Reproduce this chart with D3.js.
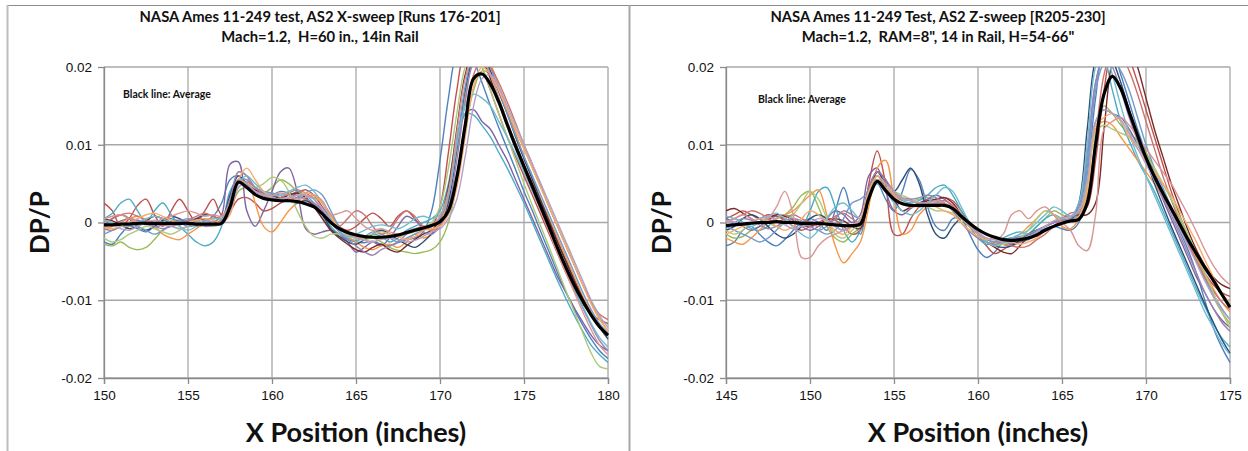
<!DOCTYPE html>
<html><head><meta charset="utf-8">
<script src="https://cdn.jsdelivr.net/npm/d3@7"></script>
<style>body{margin:0;background:#fff}svg{display:block}text{white-space:pre}</style>
</head><body>
<svg id="c" width="1248" height="451"></svg>
<script>
// ---------- DATA (DP/P values stored ×1000) ----------
const titleLeft = ["NASA Ames 11-249 test, AS2 X-sweep [Runs 176-201]", "Mach=1.2,  H=60 in., 14in Rail"];
const titleRight = ["NASA Ames 11-249 Test, AS2 Z-sweep [R205-230]", "Mach=1.2,  RAM=8\", 14 in Rail, H=54-66\""];
const xTicksLeft = [150,155,160,165,170,175,180];
const xTicksRight = [145,150,155,160,165,170,175];
const yTicks = [-0.02,-0.01,0,0.01,0.02];
const yTickLabels = ["-0.02","-0.01","0","0.01","0.02"];
const xLabel = "X Position (inches)";
const yLabel = "DP/P";
const noteText = "Black line: Average";
const runColors = ["#4F81BD","#C0504D","#9BBB59","#8064A2","#4BACC6","#F79646","#2C4D75","#772C2A",
                   "#729ACA","#CD7371","#AFC97A","#9983B5","#6FBDD1","#F9AB6B","#D99694","#B3A2C7"];

// sample positions (inches), every 0.5 in
const xsLeft = d3.range(150, 180.25, 0.5);
const xsRight = d3.range(145, 175.25, 0.5);

const avgLeft = [-0.3,-0.3,-0.2,-0.2,-0.1,-0.1,-0.1,-0.1,-0.1,-0.1,
 -0.1,-0.2,-0.2,-0.2,-0.1,2.0,5.2,4.5,3.6,3.1,
 2.9,2.8,2.8,2.7,2.4,2.0,1.1,0.0,-0.8,-1.3,
 -1.6,-1.8,-1.9,-1.9,-1.8,-1.6,-1.3,-1.0,-0.7,-0.4,
 0.1,1.5,5.8,12.5,18.5,19.1,17.8,15.5,12.6,9.8,
 7.2,4.6,2.0,-0.6,-3.3,-5.8,-8.1,-10.1,-11.9,-13.4,
 -14.5];
const runL01 = [-2.5,-2.8,-1.5,-0.5,-0.8,-1.2,-0.5,0.2,0.5,0.0,
 -0.5,-0.3,0.2,0.8,2.5,5.5,6.0,4.5,3.5,3.2,
 3.5,4.0,3.8,3.5,3.0,2.0,0.5,-1.0,-1.8,-2.2,
 -2.5,-2.6,-2.4,-2.8,-3.0,-2.6,-2.2,-2.0,-1.2,1.5,
 8.0,16.0,22.0,23.5,21.0,18.0,15.0,12.2,9.5,6.8,
 4.0,1.5,-1.2,-3.8,-6.5,-9.0,-11.2,-13.2,-15.0,-16.5,
 -17.5];
const runL02 = [2.5,1.5,-0.5,0.5,2.2,3.0,1.0,-0.5,1.5,3.0,
 1.5,0.0,1.5,3.0,1.0,1.5,3.0,3.2,2.5,1.5,
 1.8,2.5,3.0,3.8,4.2,3.5,2.0,0.5,-0.5,-1.0,
 -0.5,0.5,1.2,0.5,-0.5,0.8,1.5,0.5,-0.8,-0.5,
 2.0,9.0,17.0,22.0,22.5,20.0,17.0,14.0,11.0,8.5,
 6.0,3.5,1.0,-1.5,-4.0,-6.5,-8.8,-10.5,-11.8,-12.5,
 -13.0];
const runL03 = [-2.8,-3.0,-2.5,-3.2,-3.5,-3.2,-2.2,-1.0,-0.5,-0.8,
 -0.5,0.2,0.5,0.3,0.2,1.5,4.0,4.5,4.0,3.8,
 4.5,5.5,5.0,4.0,3.5,3.2,2.5,1.0,-0.5,-1.5,
 -2.0,-2.2,-2.0,-2.5,-3.2,-3.6,-3.8,-4.0,-3.8,-3.5,
 -2.5,0.0,5.0,12.0,17.0,19.5,19.0,17.0,14.5,12.0,
 9.5,7.0,4.5,2.0,-0.5,-3.0,-5.5,-8.0,-10.2,-12.3,
 -14.0];
const runL04 = [-0.5,-0.3,0.2,0.5,0.3,-0.2,-0.5,-0.3,0.2,0.3,
 0.0,-0.5,-0.3,0.0,1.0,7.5,7.8,1.5,-0.5,1.5,
 4.0,6.5,7.0,4.0,-0.8,-1.5,-1.2,-1.0,-1.5,-2.5,
 -3.8,-3.2,-2.5,-3.0,-2.0,-0.5,0.8,0.3,-0.5,-0.3,
 0.5,4.0,10.0,14.0,14.5,13.0,12.0,10.0,8.0,5.5,
 3.0,0.5,-2.0,-4.5,-7.0,-9.0,-11.0,-12.8,-14.5,-15.8,
 -16.5];
const runL05 = [0.5,1.2,2.5,3.0,1.5,0.0,1.5,2.5,1.0,-0.5,
 -1.5,-2.5,-3.0,-2.5,-0.5,4.0,5.5,4.8,4.0,3.5,
 3.0,2.8,3.2,4.0,3.5,2.5,1.0,-0.5,-1.5,-2.0,
 -2.3,-2.0,-1.5,-1.8,-2.5,-2.0,-1.0,-0.5,0.0,0.5,
 1.5,5.0,11.0,14.0,13.8,12.5,11.0,9.0,7.0,4.8,
 2.5,0.0,-2.5,-5.0,-7.5,-9.8,-12.0,-14.0,-15.8,-17.0,
 -18.0];
const runL06 = [-1.0,-0.5,0.0,0.5,0.8,0.3,-0.5,-1.5,-2.0,-2.2,
 -1.5,-0.8,0.0,0.5,0.8,2.5,6.5,6.0,2.5,-0.5,
 -1.2,0.0,1.5,2.5,3.0,3.5,2.5,1.0,-0.5,-1.8,
 -2.5,-3.2,-3.5,-3.0,-2.8,-3.2,-2.5,-1.5,-2.0,-1.5,
 0.0,3.0,9.0,16.0,21.5,22.5,20.5,17.5,14.5,11.5,
 8.5,5.8,3.0,0.5,-2.0,-4.5,-7.0,-9.5,-11.5,-13.2,
 -14.5];
const runL07 = [-0.3,0.5,1.0,0.5,-0.5,-1.0,-0.5,0.3,0.8,0.5,
 0.0,0.5,1.0,0.8,0.5,3.5,6.0,5.0,4.0,3.5,
 3.5,3.0,2.8,2.5,2.8,2.2,1.0,-0.8,-1.8,-2.5,
 -2.8,-2.2,-1.5,-1.0,-1.5,-2.2,-2.8,-3.2,-2.5,-1.5,
 -0.5,2.5,9.5,17.0,21.0,21.5,19.5,16.8,14.0,11.0,
 8.2,5.5,2.8,0.2,-2.5,-5.0,-7.5,-9.8,-11.8,-13.5,
 -15.0];
const runL08 = [0.5,0.2,-0.3,-0.8,-0.5,0.2,0.8,0.5,0.0,-0.3,
 0.0,0.5,0.3,0.0,0.2,2.0,5.0,5.0,4.2,3.8,
 3.5,3.2,3.5,3.8,3.2,2.0,0.5,-1.0,-2.0,-2.8,
 -3.5,-3.8,-3.2,-2.8,-3.5,-3.8,-3.0,-2.2,-1.5,-1.0,
 0.5,4.5,12.0,19.0,22.0,21.0,18.5,15.5,12.8,10.2,
 7.5,5.0,2.5,0.0,-2.5,-5.0,-7.5,-9.8,-11.8,-13.5,
 -14.5];
const runL09 = [-1.5,-1.0,-0.5,0.0,-0.5,-1.0,-1.5,-1.0,-0.3,0.2,
 0.5,0.2,-0.3,-0.5,0.0,3.0,5.5,5.5,4.5,4.0,
 3.8,3.5,3.0,3.2,3.8,4.2,3.5,1.5,-0.5,-1.5,
 -2.0,-1.8,-1.2,-1.5,-2.0,-2.5,-2.0,-1.5,-1.0,-0.5,
 0.5,3.5,10.0,17.5,21.5,22.0,20.0,17.0,14.0,11.2,
 8.5,6.0,3.5,1.0,-1.5,-4.0,-6.5,-9.0,-11.2,-13.0,
 -14.2];
const runL10 = [0.0,0.5,1.0,1.2,0.8,0.3,0.0,-0.3,-0.5,-0.2,
 0.3,0.8,1.2,0.8,0.5,1.5,4.5,5.2,4.5,3.5,
 3.0,3.2,3.8,4.2,3.8,3.0,1.5,0.0,-0.5,0.5,
 1.5,1.0,-0.5,-1.5,-1.0,0.5,1.5,0.8,-0.5,-1.0,
 -0.2,1.5,6.0,13.0,19.0,21.0,20.0,18.0,15.5,12.8,
 10.0,7.5,4.8,2.0,-0.5,-3.0,-5.5,-8.0,-10.2,-11.8,
 -12.5];
const runL11 = [-2.0,-2.5,-2.2,-1.5,-1.0,-0.5,-0.8,-1.2,-1.5,-1.0,
 -0.5,-0.2,0.0,-0.5,0.0,2.5,5.5,5.0,4.5,5.0,
 5.8,5.5,4.0,1.5,-0.5,-1.8,-2.0,-1.5,-1.5,-1.8,
 -2.0,-1.8,-1.5,-1.2,-1.5,-1.8,-1.5,-1.2,-0.8,0.0,
 2.0,7.0,14.0,20.0,22.0,20.0,17.0,14.0,11.0,8.0,
 5.0,2.2,-0.5,-3.2,-6.0,-8.8,-11.5,-14.2,-16.8,-18.5,
 -18.8];
const runL12 = [-0.8,-1.0,-0.5,0.0,0.3,0.0,-0.5,-0.8,-0.5,0.0,
 0.3,0.0,-0.5,-0.3,0.3,3.0,6.5,6.0,4.5,3.8,
 3.2,3.0,3.0,3.2,3.0,2.5,1.5,0.0,-1.2,-2.2,
 -3.0,-3.8,-4.2,-3.5,-3.0,-2.5,-1.5,-0.8,-1.2,-1.5,
 -0.5,2.0,8.0,15.5,20.5,21.0,19.0,16.0,13.0,10.0,
 7.2,4.5,1.8,-0.8,-3.5,-6.0,-8.5,-11.0,-13.2,-15.2,
 -16.5];
const runL13 = [0.3,0.0,-0.5,-0.5,0.0,0.5,0.8,0.5,0.0,-0.5,
 -1.0,-0.5,0.0,0.5,0.5,2.0,5.0,6.0,5.0,4.0,
 3.5,3.5,4.0,4.5,4.8,4.0,2.5,0.5,-1.0,-1.8,
 -1.5,-1.0,-0.5,-0.3,-0.5,-0.8,-0.3,0.5,0.8,0.5,
 1.0,3.5,10.0,15.0,16.5,16.0,15.0,13.0,11.0,8.8,
 6.5,4.0,1.5,-1.0,-3.5,-6.0,-8.5,-10.8,-13.0,-14.8,
 -16.0];
const runL14 = [-0.5,-0.8,-0.5,0.0,0.5,1.0,1.2,0.8,0.3,0.0,
 0.0,0.3,0.5,0.3,0.0,1.0,5.5,7.0,5.5,4.0,
 3.2,2.8,3.0,3.5,3.8,3.5,2.5,0.8,-0.8,-1.5,
 -1.8,-2.2,-2.5,-2.0,-1.5,-1.8,-2.2,-1.8,-1.0,-0.8,
 -0.5,1.0,4.5,11.0,17.5,20.0,19.0,17.0,14.5,12.0,
 9.5,7.0,4.5,2.0,-0.5,-3.0,-5.5,-8.0,-10.5,-12.5,
 -14.0];
const runL15 = [0.5,0.8,1.0,0.5,0.0,-0.3,0.0,0.5,0.8,1.2,
 1.5,1.2,0.8,1.0,0.8,2.5,5.5,5.0,4.0,3.5,
 3.5,3.8,3.5,3.0,3.2,3.5,2.8,1.0,1.2,1.5,
 0.5,-0.5,-1.0,-0.8,-1.2,-1.5,-1.2,-0.8,-0.5,-0.3,
 0.8,4.0,11.5,18.5,21.5,21.0,19.0,16.0,13.0,10.0,
 7.0,4.2,1.5,-1.2,-4.0,-6.5,-9.0,-11.5,-13.8,-15.8,
 -17.0];
const runL16 = [0.0,-0.3,-0.8,-1.0,-0.5,0.0,0.3,0.0,-0.5,-0.8,
 -0.5,0.0,0.3,0.0,-0.3,1.5,4.5,5.0,4.0,3.5,
 3.2,3.0,3.2,3.5,3.5,3.0,1.8,0.3,-0.8,-1.5,
 -2.0,-2.3,-2.5,-2.2,-2.0,-2.2,-2.5,-2.3,-1.8,-1.2,
 -0.8,0.5,3.0,8.5,15.0,18.5,19.0,17.5,15.0,12.5,
 10.0,7.5,5.0,2.5,0.0,-2.5,-5.0,-7.5,-10.0,-12.0,
 -13.5];

const avgRight = [-0.4,-0.3,-0.2,-0.1,0.0,0.0,0.1,0.0,0.0,-0.1,
 -0.1,-0.1,-0.2,-0.3,-0.4,-0.4,-0.2,3.1,5.3,4.1,
 3.0,2.4,2.2,2.2,2.2,2.2,2.2,1.8,0.8,-0.1,
 -0.9,-1.5,-1.9,-2.2,-2.3,-2.2,-2.0,-1.6,-1.0,-0.5,
 -0.1,0.2,0.4,2.5,10.0,16.5,18.8,17.2,14.2,11.2,
 8.3,5.9,3.8,1.8,-0.2,-2.2,-4.0,-5.8,-7.4,-9.2,
 -10.9];
const runR01 = [-3.0,-2.5,-1.0,-0.5,-1.5,-2.5,-3.0,-2.2,-1.0,0.0,
 0.5,0.0,-1.0,1.5,4.5,1.0,-1.5,3.0,5.0,3.0,
 1.5,4.0,6.8,5.5,2.0,-0.5,-1.0,0.5,0.5,-1.5,
 -3.5,-4.5,-3.8,-2.5,-2.0,-2.5,-2.2,-1.5,-0.8,-0.5,
 -0.8,-1.0,0.0,6.0,16.0,22.0,22.0,19.0,15.5,12.0,
 9.0,6.5,4.0,1.5,-1.0,-3.5,-6.5,-10.0,-13.5,-16.0,
 -18.0];
const runR02 = [0.5,1.0,1.5,1.0,0.5,1.0,0.8,0.3,-0.5,-1.0,
 -0.5,0.0,0.5,0.3,-0.5,-1.5,-1.0,5.0,9.2,5.0,
 -1.5,-1.5,0.5,2.0,2.5,3.0,3.2,2.8,1.5,0.0,
 -1.5,-3.0,-4.0,-3.5,-2.8,-2.5,-2.0,-1.2,-0.5,0.0,
 0.3,0.5,1.0,2.0,8.0,17.0,22.0,22.5,21.0,18.0,
 14.5,11.0,7.5,4.0,1.0,-2.0,-4.5,-6.5,-8.0,-9.0,
 -9.5];
const runR03 = [-1.5,-2.0,-1.8,-1.0,-0.5,0.0,0.5,1.0,2.0,3.5,
 4.0,2.0,-0.5,-2.0,-2.5,-1.5,-0.5,3.5,6.0,5.0,
 3.8,3.0,2.8,3.0,3.2,2.8,2.5,1.5,0.0,-1.0,
 -1.8,-2.2,-2.5,-2.8,-3.0,-2.5,-1.5,-0.5,0.5,1.5,
 1.0,0.5,0.8,3.0,10.0,15.0,14.0,12.5,11.5,10.5,
 9.0,7.0,5.0,3.0,0.5,-2.0,-4.5,-7.0,-9.5,-11.5,
 -13.0];
const runR04 = [0.5,0.0,-0.5,-1.0,-0.5,0.3,0.8,0.5,0.0,-0.5,
 -1.0,-0.5,0.5,1.5,1.0,0.0,1.0,6.0,7.0,4.0,
 1.5,1.0,1.8,2.5,3.0,3.5,3.0,2.0,0.5,-0.5,
 -1.0,-1.5,-2.0,-2.5,-2.8,-2.5,-2.0,-1.5,-1.0,-0.5,
 0.0,0.3,0.8,4.5,13.0,14.5,14.0,13.5,12.0,10.0,
 8.0,5.5,3.0,0.5,-2.0,-4.5,-7.0,-9.0,-11.0,-12.5,
 -13.5];
const runR05 = [0.0,0.5,0.0,-0.8,-1.0,-0.5,0.5,1.0,0.5,-0.5,
 1.5,4.0,4.5,2.0,-1.0,-2.5,-1.0,4.5,5.5,4.5,
 3.5,2.8,2.5,2.8,3.5,4.5,4.8,3.5,1.5,-0.5,
 -2.0,-2.8,-2.5,-2.0,-1.5,-1.2,-1.5,-0.5,0.5,1.0,
 0.5,0.2,1.5,8.0,18.0,21.0,17.0,13.0,10.5,8.0,
 6.0,4.0,1.5,-1.0,-3.5,-6.0,-8.5,-10.8,-13.0,-14.8,
 -16.0];
const runR06 = [-2.0,-2.5,-2.8,-2.0,-1.0,0.0,0.5,1.0,1.5,2.5,
 3.5,4.2,1.0,-3.0,-5.2,-4.0,-2.5,2.0,7.0,8.0,
 3.0,-1.5,-1.0,1.0,2.0,2.5,2.2,2.0,1.0,-0.5,
 -1.5,-2.0,-2.8,-2.5,-2.0,-1.5,-0.5,0.5,1.5,1.0,
 -0.5,-0.8,0.5,5.0,12.0,13.0,12.5,11.0,9.5,8.0,
 6.5,5.0,3.2,1.5,-0.5,-2.5,-4.5,-6.5,-8.5,-10.2,
 -11.5];
const runR07 = [-1.0,-0.5,0.5,1.0,0.5,-0.5,-1.5,-2.0,-1.5,-0.5,
 0.5,1.0,0.5,-0.5,-1.0,-0.5,0.0,4.5,6.5,5.0,
 4.0,5.5,7.0,5.0,1.0,-1.5,-2.0,-0.5,0.5,0.0,
 -1.5,-2.5,-3.0,-3.2,-3.0,-2.2,-1.5,-1.0,-1.0,-0.5,
 0.0,0.3,2.5,12.0,21.0,23.0,21.0,18.0,14.5,11.0,
 8.0,5.0,2.2,-0.5,-3.0,-5.5,-8.0,-10.5,-12.8,-15.0,
 -16.8];
const runR08 = [1.5,1.8,1.2,0.5,0.0,0.5,1.0,0.8,0.3,-0.3,
 -0.5,-0.2,0.3,0.5,0.2,-0.5,-0.8,3.0,6.5,5.5,
 3.0,1.5,2.0,2.5,2.8,3.0,3.2,2.5,1.0,-0.5,
 -1.5,-2.5,-3.2,-3.8,-4.0,-3.0,-1.8,-1.0,-0.5,0.0,
 0.5,0.8,1.0,1.0,2.5,12.0,21.0,24.0,23.0,20.0,
 16.0,12.0,8.5,5.0,2.0,-1.0,-3.5,-5.5,-7.0,-8.0,
 -8.5];
const runR09 = [-0.5,-1.0,-1.5,-2.0,-2.5,-2.0,-1.0,0.0,0.5,0.2,
 -0.5,-1.0,-1.5,-1.0,0.5,2.5,3.0,4.0,5.5,4.5,
 3.5,3.0,2.8,2.5,2.5,2.8,2.5,1.8,0.8,-0.5,
 -1.5,-2.2,-2.5,-2.2,-2.0,-1.8,-1.5,-1.0,-0.5,0.0,
 0.5,0.8,1.2,7.0,17.0,20.5,21.0,19.5,17.0,13.5,
 10.0,7.0,4.5,2.0,-0.5,-2.8,-5.0,-7.2,-9.2,-11.0,
 -12.5];
const runR10 = [0.0,0.5,1.0,1.5,1.2,0.5,0.0,0.5,1.0,0.5,
 0.0,-0.5,0.0,0.8,1.2,0.5,0.0,4.0,6.0,4.5,
 3.2,2.5,2.2,2.0,2.2,2.5,2.8,2.2,1.0,0.0,
 -0.8,-1.5,-2.2,-2.8,-3.0,-3.2,-3.0,-2.2,-1.5,-0.5,
 0.5,1.2,1.5,3.5,11.0,19.0,22.0,21.5,19.5,16.5,
 13.0,9.5,6.0,3.0,0.0,-2.5,-5.0,-7.0,-8.8,-10.2,
 -11.2];
const runR11 = [-1.0,-1.5,-1.0,0.0,0.5,0.0,-0.5,0.0,1.0,2.5,
 4.0,3.0,0.5,-1.5,-2.0,-1.0,0.0,3.5,5.0,4.5,
 4.0,3.5,3.0,2.5,2.0,1.5,1.5,1.2,0.5,-0.5,
 -1.5,-2.5,-3.0,-2.8,-2.5,-2.0,-1.0,0.5,1.5,1.0,
 0.5,0.8,1.5,4.5,11.5,12.5,12.0,11.5,11.0,10.0,
 8.5,7.0,5.0,3.0,0.8,-1.5,-4.0,-6.5,-9.0,-11.5,
 -13.5];
const runR12 = [-0.5,0.0,0.5,0.3,-0.3,-0.8,-0.5,0.2,0.5,0.0,
 -0.5,-1.0,-0.5,0.5,1.5,1.0,0.5,4.5,6.5,5.5,
 4.0,3.2,3.0,3.2,3.5,3.2,2.5,1.5,0.0,-1.2,
 -2.0,-2.5,-2.8,-2.5,-2.2,-2.0,-1.8,-1.2,-0.5,0.0,
 0.2,0.5,2.0,9.0,18.0,21.5,20.0,17.0,13.5,10.5,
 7.8,5.5,3.2,1.0,-1.5,-4.0,-6.5,-9.0,-11.0,-12.8,
 -14.0];
const runR13 = [0.8,0.5,0.0,-0.5,0.0,0.8,1.2,0.5,-0.5,-1.5,
 -2.0,-1.0,0.5,2.0,2.5,1.5,0.5,3.5,5.0,4.0,
 2.5,1.5,1.0,1.5,2.5,3.5,4.5,4.0,2.0,0.0,
 -1.5,-2.5,-3.0,-2.5,-2.0,-1.5,-1.0,0.0,1.0,2.0,
 1.5,0.8,2.5,10.0,20.0,22.0,19.0,15.0,11.5,8.5,
 6.0,3.5,1.0,-1.5,-4.0,-6.5,-9.0,-11.5,-13.5,-15.5,
 -17.0];
const runR14 = [-1.5,-1.0,-0.5,0.0,0.5,0.2,-0.5,-1.0,-0.5,0.5,
 1.5,1.0,0.0,-1.0,-1.5,-0.5,0.5,4.0,6.0,5.0,
 3.5,2.5,2.0,2.2,2.5,2.0,1.5,1.0,0.0,-1.0,
 -1.8,-2.2,-2.0,-2.2,-2.5,-2.8,-2.5,-2.0,-1.0,-0.5,
 0.0,0.2,0.8,4.0,12.5,13.5,14.0,13.0,11.0,9.5,
 8.0,6.5,5.0,3.5,1.5,-0.5,-2.5,-4.8,-7.0,-9.0,
 -10.5];
const runR15 = [0.0,0.5,1.0,0.5,0.0,0.5,2.0,4.0,1.0,-4.5,
 -4.5,-3.0,-2.0,-1.5,-1.0,-0.5,0.0,3.0,5.5,4.5,
 3.5,3.0,2.8,2.5,2.5,2.8,2.5,2.0,1.0,-0.5,
 -1.5,-2.0,-2.2,-1.5,1.0,1.5,0.5,1.5,2.0,1.0,
 0.0,-1.0,-3.0,-3.6,1.0,12.0,13.0,13.5,12.5,11.0,
 9.5,8.0,6.5,5.0,3.0,1.0,-1.2,-3.5,-5.5,-7.0,
 -8.0];
const runR16 = [0.3,0.0,-0.3,0.0,0.5,0.8,0.3,-0.3,-0.8,-0.5,
 0.0,0.5,0.3,-0.5,-1.0,-0.3,0.3,3.0,5.5,5.0,
 4.0,3.2,2.8,2.5,2.5,2.5,2.2,1.8,0.8,-0.3,
 -1.2,-2.0,-2.2,-2.5,-2.5,-2.2,-1.8,-1.2,-0.5,0.2,
 0.5,0.8,1.5,5.5,13.0,14.5,14.0,13.2,11.5,9.5,
 7.5,5.5,3.5,1.5,-0.8,-3.0,-5.2,-7.5,-9.5,-11.2,
 -12.5];

const runsLeft = [runL01,runL02,runL03,runL04,runL05,runL06,runL07,runL08,runL09,runL10,runL11,runL12,runL13,runL14,runL15,runL16];
const runsRight = [runR01,runR02,runR03,runR04,runR05,runR06,runR07,runR08,runR09,runR10,runR11,runR12,runR13,runR14,runR15,runR16];

// ---------- DRAW ----------
const svg = d3.select("#c");
svg.append("rect").attr("width",1248).attr("height",451).attr("fill","#fff");

// outer frames
svg.append("line").attr("x1",7).attr("x2",1248).attr("y1",5.5).attr("y2",5.5).attr("stroke","#8c8c8c").attr("stroke-width",1.2);
svg.append("line").attr("x1",7.5).attr("x2",7.5).attr("y1",5).attr("y2",451).attr("stroke","#bdbdbd").attr("stroke-width",2);
svg.append("line").attr("x1",629.5).attr("x2",629.5).attr("y1",5).attr("y2",451).attr("stroke","#a6a6a6").attr("stroke-width",2);

const titleFont = "Lato, 'Open Sans', sans-serif";

function panel(id, cfg) {
  const g = svg.append("g");
  const x = d3.scaleLinear().domain(cfg.xDomain).range([cfg.x0, cfg.x1]);
  const y = d3.scaleLinear().domain([-0.02, 0.02]).range([cfg.y1, cfg.y0]);

  // title
  cfg.title.forEach((t, i) => {
    g.append("text").attr("x", cfg.cx).attr("y", 22 + i * 19.5)
      .attr("text-anchor","middle").attr("font-family", titleFont)
      .attr("font-weight","bold").attr("font-size","14.8px").attr("fill","#111")
      .attr("xml:space","preserve").text(t);
  });

  // gridlines
  g.append("g").selectAll("line").data(cfg.xTicks).join("line")
    .attr("x1", d => x(d)).attr("x2", d => x(d)).attr("y1", cfg.y0).attr("y2", cfg.y1)
    .attr("stroke","#a8a8a8").attr("stroke-width",1.3);
  g.append("g").selectAll("line").data(yTicks).join("line")
    .attr("x1", cfg.x0).attr("x2", cfg.x1).attr("y1", d => y(d)).attr("y2", d => y(d))
    .attr("stroke","#a8a8a8").attr("stroke-width",1.3);

  // axes
  const xAxis = d3.axisBottom(x).tickValues(cfg.xTicks).tickSize(6).tickPadding(6).tickFormat(d3.format("d"));
  const yAxis = d3.axisLeft(y).tickValues(yTicks).tickSize(6).tickPadding(6).tickFormat((d,i) => yTickLabels[i]);
  const gx = g.append("g").attr("transform", `translate(0,${cfg.y1})`).call(xAxis);
  const gy = g.append("g").attr("transform", `translate(${cfg.x0},0)`).call(yAxis);
  [gx, gy].forEach(a => {
    a.select(".domain").attr("stroke","#8a8a8a").attr("stroke-width",1.3);
    a.selectAll(".tick line").attr("stroke","#8a8a8a").attr("stroke-width",1.3);
    a.selectAll("text").attr("font-family","Arial, 'Liberation Sans', sans-serif").attr("font-size","13.5px").attr("fill","#111");
  });
  gy.select(".domain").attr("d", `M0.5,${cfg.y0}V${cfg.y1}`);

  // clip
  const clipId = "clip" + id;
  svg.append("clipPath").attr("id", clipId).append("rect")
    .attr("x", cfg.x0).attr("y", cfg.y0).attr("width", cfg.x1 - cfg.x0 + 1.5).attr("height", cfg.y1 - cfg.y0);
  const plot = g.append("g").attr("clip-path", `url(#${clipId})`);
  const line = d3.line().x((d, i) => x(cfg.xs[i])).y(d => y(d * 1e-3)).curve(d3.curveCatmullRom.alpha(0.5));

  cfg.runs.forEach((r, k) => {
    plot.append("path").attr("d", line(r)).attr("fill","none")
      .attr("stroke", runColors[k % runColors.length]).attr("stroke-width",1.4);
  });
  plot.append("path").attr("d", line(cfg.avg)).attr("fill","none")
    .attr("stroke","#000").attr("stroke-width",3.2).attr("stroke-linejoin","round");

  // note
  g.append("text").attr("x", cfg.noteX).attr("y", cfg.noteY)
    .attr("font-family", titleFont).attr("font-weight","bold")
    .attr("font-size","10.5px").attr("fill","#111").text(noteText);

  // axis titles
  g.append("text").attr("x", (cfg.x0 + cfg.x1) / 2).attr("y", 442)
    .attr("text-anchor","middle").attr("font-family", titleFont)
    .attr("font-weight","bold").attr("font-size","27px").attr("fill","#111").text(xLabel);
  g.append("text").attr("transform", `translate(${cfg.x0 - 55},${(cfg.y0 + cfg.y1) / 2}) rotate(-90)`)
    .attr("text-anchor","middle").attr("font-family", titleFont)
    .attr("font-weight","bold").attr("font-size","26px").attr("fill","#111").text(yLabel);
}

panel("L", {xDomain:[150,180], x0:104, x1:608, y0:67, y1:378, cx:320, xTicks:xTicksLeft,
  xs:xsLeft, runs:runsLeft, avg:avgLeft, title:titleLeft, noteX:123, noteY:98});
panel("R", {xDomain:[145,175], x0:726, x1:1230, y0:67, y1:378, cx:938, xTicks:xTicksRight,
  xs:xsRight, runs:runsRight, avg:avgRight, title:titleRight, noteX:758, noteY:103});
</script>
</body></html>
